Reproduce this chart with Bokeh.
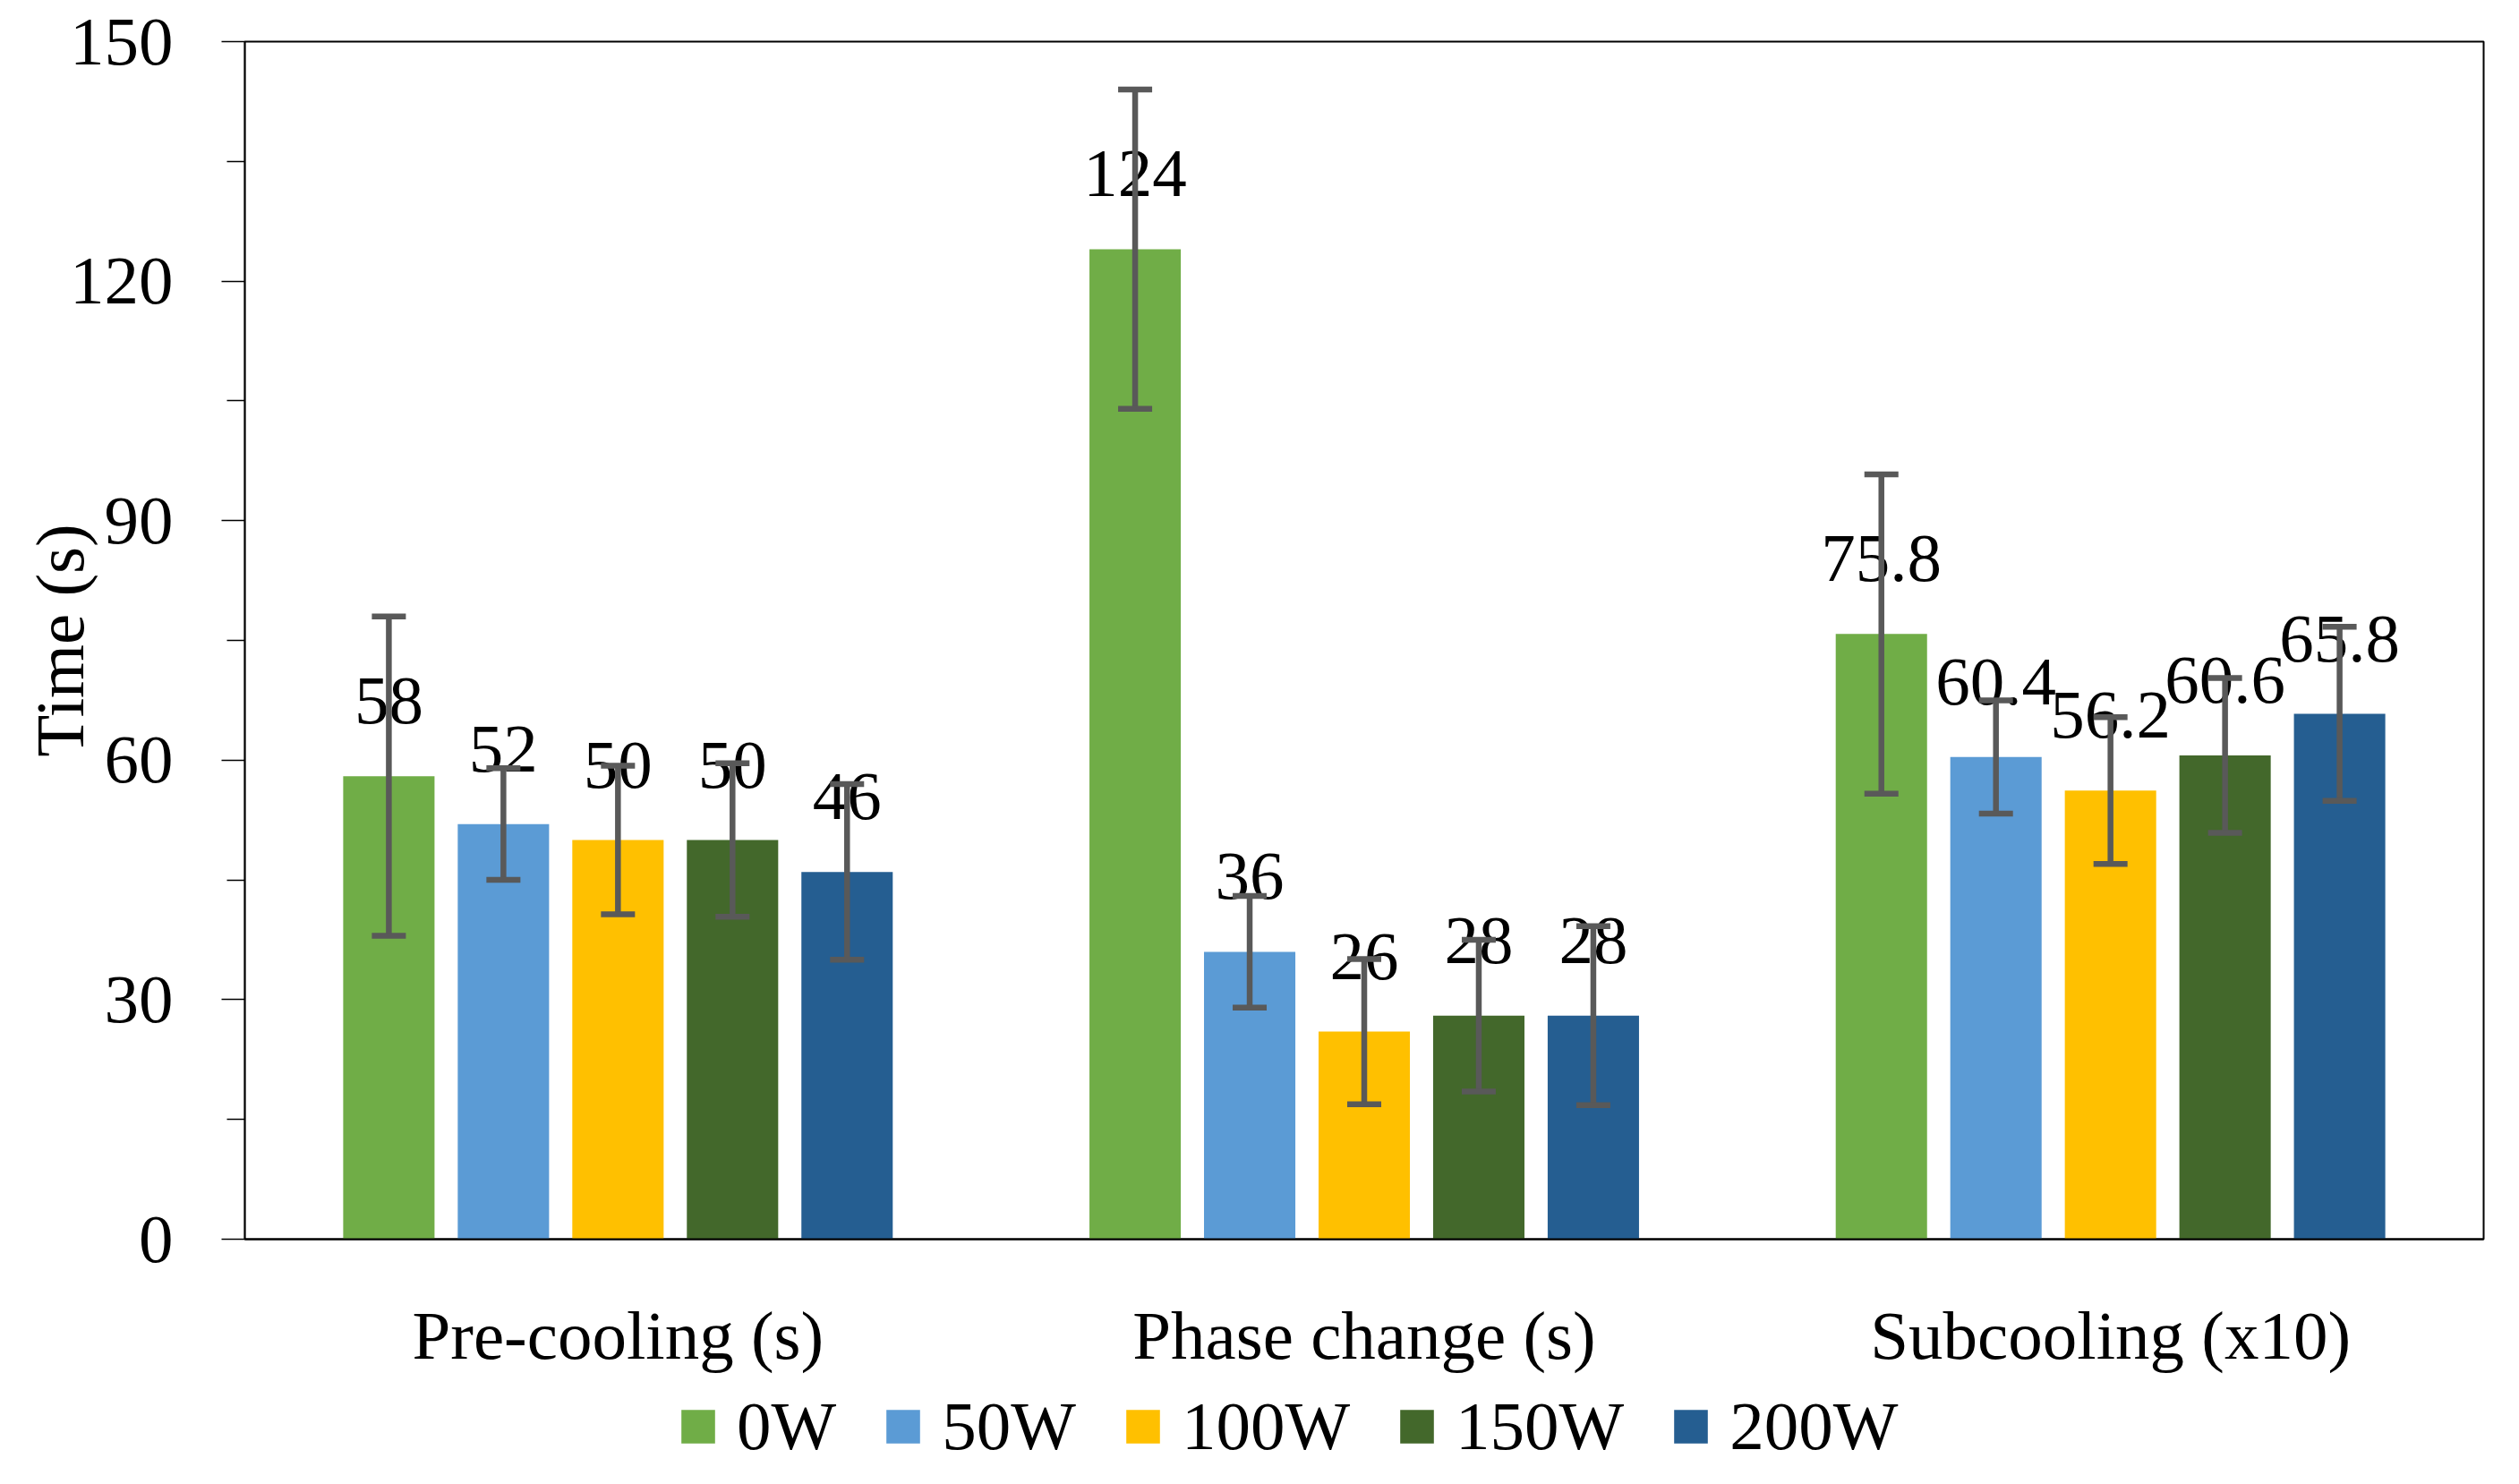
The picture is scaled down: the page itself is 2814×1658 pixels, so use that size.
from bokeh.plotting import figure
from bokeh.layouts import column
from bokeh.models import (ColumnDataSource, FactorRange, Range1d, Whisker, TeeHead,
                          FixedTicker, Legend, LegendItem)
from bokeh.transform import dodge
from bokeh.core.properties import value
from bokeh.embed import file_html
from bokeh.resources import INLINE

# ---------------- data ----------------
categories = ["Pre-cooling (s)", "Phase change (s)", "Subcooling (x10)"]
series = ["0W", "50W", "100W", "150W", "200W"]
colors = ["#70AD47", "#5B9BD5", "#FFC000", "#43682B", "#255E91"]

values_0W = [58, 124, 75.8]
values_50W = [52, 36, 60.4]
values_100W = [50, 26, 56.2]
values_150W = [50, 28, 60.6]
values_200W = [46, 28, 65.8]

err_0W = [20, 20, 20]
err_50W = [7, 7, 7.1]
err_100W = [9.3, 9.1, 9.2]
err_150W = [9.6, 9.5, 9.7]
err_200W = [11, 11.2, 10.9]

y_ticks = [0, 30, 60, 90, 120, 150]
y_minor_ticks = [15, 45, 75, 105, 135]

all_values = [values_0W, values_50W, values_100W, values_150W, values_200W]
all_errors = [err_0W, err_50W, err_100W, err_150W, err_200W]

# ---------------- layout constants ----------------
FONT = "Liberation Serif"
FS = "77px"
W = 2796
H_MAIN = 1545
H_LEG = 95
slot = 0.1535
bar_w = 0.1224
offsets = [(i - 2) * slot for i in range(5)]

p = figure(
    width=W, height=H_MAIN,
    x_range=FactorRange(factors=categories, range_padding=0),
    y_range=Range1d(0, 150),
    output_backend="svg", toolbar_location=None,
    min_border_left=273, min_border_right=22, min_border_top=46, min_border_bottom=161,
    background_fill_color="white", border_fill_color="white",
)
p.outline_line_color = "black"
p.outline_line_width = 2
p.xgrid.grid_line_color = None
p.ygrid.grid_line_color = None

# legend-only strip underneath (its frame is aligned with the main frame)
pl = figure(
    width=W, height=H_LEG, x_range=Range1d(0, 1), y_range=Range1d(0, 1),
    output_backend="svg", toolbar_location=None,
    x_axis_location=None, y_axis_location=None,
    min_border_left=0, min_border_right=0, min_border_top=0, min_border_bottom=0,
    background_fill_color="white", border_fill_color="white",
)
pl.outline_line_color = None
pl.xgrid.grid_line_color = None
pl.ygrid.grid_line_color = None

items = []
for i, s in enumerate(series):
    vals = all_values[i]
    errs = all_errors[i]
    src = ColumnDataSource(dict(
        cat=categories,
        top=vals,
        upper=[v + e for v, e in zip(vals, errs)],
        lower=[v - e for v, e in zip(vals, errs)],
        label=[f"{v:g}" for v in vals],
    ))
    xs = dodge("cat", offsets[i], range=p.x_range)
    p.vbar(x=xs, top="top", width=bar_w, source=src, fill_color=colors[i],
           line_color=None)
    p.text(x=xs, y="top", text="label", source=src, text_align="center",
           text_baseline="alphabetic", y_offset=-84,
           text_font=value(FONT), text_font_size=FS, text_color="black")
    wh = Whisker(base=xs, upper="upper", lower="lower", source=src,
                 line_color="#595959", line_width=6.5, level="annotation",
                 upper_head=TeeHead(size=38, line_color="#595959", line_width=6.5),
                 lower_head=TeeHead(size=38, line_color="#595959", line_width=6.5))
    p.add_layout(wh)
    # zero-height legend swatch proxy (only its colour is used by the legend)
    lr = pl.vbar(x=[0.5], top=[0], bottom=[0], width=0.1, fill_color=colors[i],
                 line_color=None)
    items.append(LegendItem(label=s, renderers=[lr]))

# y axis
yax = p.yaxis[0]
yax.ticker = FixedTicker(ticks=y_ticks, minor_ticks=y_minor_ticks)
yax.axis_label = "Time (s)"
yax.axis_label_text_font = FONT
yax.axis_label_text_font_size = FS
yax.axis_label_text_font_style = "normal"
yax.axis_label_text_color = "black"
yax.axis_label_standoff = -35
yax.major_label_text_font = FONT
yax.major_label_text_font_size = FS
yax.major_label_text_color = "black"
yax.major_label_standoff = 54
yax.major_tick_out = 26
yax.major_tick_in = 0
yax.minor_tick_out = 20
yax.minor_tick_in = 0
yax.major_tick_line_color = "black"
yax.minor_tick_line_color = "black"
yax.major_tick_line_width = 1.5
yax.minor_tick_line_width = 1.5
yax.axis_line_color = "black"
yax.axis_line_width = 1.5

# x axis
xax = p.xaxis[0]
xax.major_label_text_font = FONT
xax.major_label_text_font_size = FS
xax.major_label_text_color = "black"
xax.major_label_standoff = 64
xax.major_tick_out = 0
xax.major_tick_in = 0
xax.minor_tick_out = 0
xax.axis_line_color = "black"
xax.axis_line_width = 2

# legend
lg = Legend(items=items, orientation="horizontal", location=(483, 2),
            label_text_font=FONT, label_text_font_size=FS, label_text_color="black",
            glyph_width=47, glyph_height=47, label_standoff=20, spacing=51,
            padding=0, margin=0, border_line_color=None, background_fill_alpha=0)
pl.add_layout(lg, "center")

layout = column(p, pl, spacing=0)
open("out.html", "w").write(file_html(layout, INLINE))
